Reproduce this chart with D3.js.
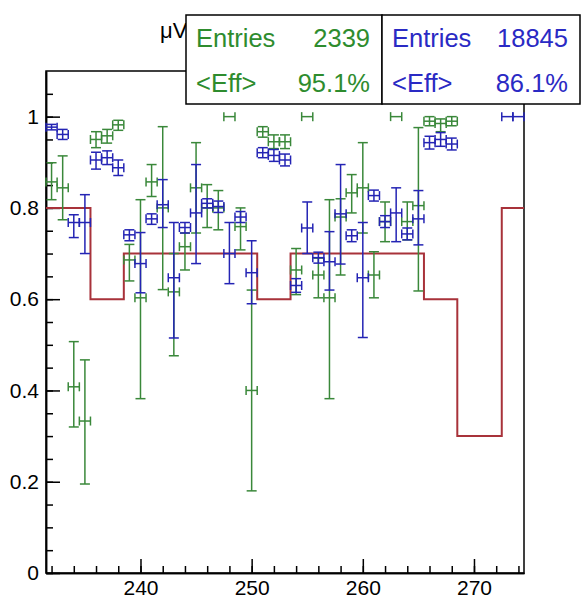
<!DOCTYPE html>
<html>
<head>
<meta charset="utf-8">
<script src="https://cdn.jsdelivr.net/npm/d3@7"></script>
<style>
  body { margin: 0; background: #fff; }
  svg { display: block; font-family: "Liberation Sans", Arial, sans-serif; }
</style>
</head>
<body>
<svg id="drawing_region"></svg>
<script>
// reference step histogram (bin edges and contents)
const refEdges  = [231.5, 235.5, 238.5, 250.5, 253.5, 265.5, 268.5, 272.5, 274.5];
const refValues = [0.8, 0.6, 0.7, 0.6, 0.7, 0.6, 0.3, 0.8];

// green series: bin centre, efficiency, upper and lower edge of the error
const greenBins = [232,233,234,235,236,237,238,239,240,241,242,243,244,245,246,247,248,249,250,251,252,253,254,255,256,257,258,259,260,261,262,263,264,265,266,267,268];
const greenEff  = [0.857,0.844,0.408,0.333,0.950,0.958,0.982,0.686,0.603,0.857,0.800,0.616,0.715,0.844,0.800,0.800,1.000,0.759,0.400,0.967,0.945,0.945,0.664,1.000,0.653,0.603,0.780,0.833,0.844,0.653,0.770,1.000,0.770,0.805,0.990,0.985,0.990];
const greenUp   = [0.899,0.914,0.507,0.467,0.967,0.972,0.992,0.720,0.818,0.895,0.978,0.700,0.745,0.943,0.851,0.838,1.000,0.800,0.620,0.978,0.960,0.960,0.711,1.000,0.690,0.818,0.820,0.873,0.943,0.704,0.813,1.000,0.813,0.976,1.000,0.995,1.000];
const greenLo   = [0.818,0.774,0.320,0.195,0.932,0.942,0.970,0.640,0.382,0.825,0.621,0.476,0.664,0.745,0.757,0.752,1.000,0.708,0.180,0.955,0.930,0.930,0.610,1.000,0.603,0.382,0.653,0.789,0.745,0.603,0.726,1.000,0.730,0.618,0.980,0.967,0.980];

// blue series
const blueBins = [232,233,234,235,236,237,238,239,240,241,242,243,244,245,246,247,248,249,250,251,252,253,254,255,256,257,258,259,260,261,262,263,264,265,266,267,268,273,274];
const blueEff  = [0.977,0.961,0.768,0.768,0.905,0.910,0.888,0.741,0.678,0.776,0.807,0.647,0.757,0.789,0.810,0.803,0.700,0.780,0.658,0.921,0.915,0.905,0.630,0.756,0.691,0.682,0.787,0.739,0.647,0.827,0.770,0.789,0.743,0.776,0.943,0.950,0.940,1.000,1.000];
const blueUp   = [0.983,0.972,0.785,0.829,0.922,0.925,0.905,0.752,0.746,0.787,0.862,0.768,0.768,0.895,0.820,0.815,0.768,0.792,0.728,0.932,0.928,0.918,0.645,0.813,0.703,0.748,0.895,0.752,0.768,0.839,0.783,0.844,0.756,0.838,0.957,0.965,0.953,1.000,1.000];
const blueLo   = [0.971,0.950,0.735,0.700,0.885,0.895,0.871,0.728,0.614,0.764,0.757,0.515,0.745,0.678,0.800,0.790,0.634,0.768,0.590,0.910,0.902,0.892,0.615,0.700,0.679,0.620,0.677,0.726,0.516,0.815,0.757,0.726,0.730,0.719,0.929,0.935,0.927,1.000,1.000];

// axis ticks
const xMajor = [240, 250, 260, 270];
const xMinor = d3.range(232, 275, 2);
const yMajor = [0, 0.2, 0.4, 0.6, 0.8, 1];
const yMinor = d3.range(0, 1.1, 0.05);

// stat boxes
const statLabels = ["Entries", "<Eff>"];
const greenStats = ["2339", "95.1%"];
const blueStats  = ["18845", "86.1%"];

const config = {
  width: 587,
  height: 599,
  margin: {top: 71, right: 63, bottom: 26, left: 46}
};
const green = '#3a883a', blue = '#2424b4', red = '#a8323a';
const greenText = '#2e8c2e', blueText = '#2a2ac4';

const svg = d3.select('#drawing_region')
    .attr('width', config.width)
    .attr('height', config.height);

const innerW = config.width - config.margin.left - config.margin.right;
const innerH = config.height - config.margin.top - config.margin.bottom;

const chart = svg.append('g')
    .attr('transform', `translate(${config.margin.left}, ${config.margin.top})`);

const xscale = d3.scaleLinear().domain([231.5, 274.5]).range([0, innerW]);
const yscale = d3.scaleLinear().domain([0, 1.1]).range([innerH, 0]);

// title, its tail is hidden behind the stat boxes
svg.append('text')
    .attr('x', 160).attr('y', 38)
    .attr('font-size', 22)
    .text('μV');

// frame
chart.append('rect')
    .attr('width', innerW).attr('height', innerH)
    .attr('fill', 'none').attr('stroke', '#000').attr('stroke-width', 1.5);

// axes, ticks pointing inwards
const yMinorAxis = d3.axisLeft(yscale).tickValues(yMinor).tickSize(-7).tickSizeOuter(0).tickFormat('');
const yMajorAxis = d3.axisLeft(yscale).tickValues(yMajor).tickSize(-14).tickSizeOuter(0).tickPadding(7)
    .tickFormat(d => (d === 0 || d === 1) ? String(d) : d.toFixed(1));
const xMinorAxis = d3.axisBottom(xscale).tickValues(xMinor).tickSize(-7).tickSizeOuter(0).tickFormat('');
const xMajorAxis = d3.axisBottom(xscale).tickValues(xMajor).tickSize(-14).tickSizeOuter(0).tickPadding(7);

const styleAxis = g => {
  g.selectAll('path,line').attr('stroke', '#000').attr('stroke-width', 1.5);
  g.selectAll('text').attr('font-size', 21).attr('fill', '#000')
      .attr('font-family', '"Liberation Sans", Arial, sans-serif');
};

chart.append('g').call(yMinorAxis).call(styleAxis);
chart.append('g').call(yMajorAxis).call(styleAxis);
chart.append('g').attr('transform', `translate(0, ${innerH})`).call(xMinorAxis).call(styleAxis);
chart.append('g').attr('transform', `translate(0, ${innerH})`).call(xMajorAxis).call(styleAxis);

// reference step line
const stepPts = refValues.map((v, i) => [refEdges[i], v]);
stepPts.push([refEdges[refEdges.length - 1], refValues[refValues.length - 1]]);
chart.append('path')
    .attr('d', d3.line().x(d => xscale(d[0])).y(d => yscale(d[1])).curve(d3.curveStepAfter)(stepPts))
    .attr('fill', 'none').attr('stroke', red).attr('stroke-width', 2);

// error bars with end caps
function drawSeries(bins, eff, up, lo, color) {
  const pts = bins.map((b, i) => ({x: b, y: eff[i], hi: up[i], lo: lo[i]}));
  const g = chart.append('g').attr('stroke', color).attr('stroke-width', 1.5).attr('fill', 'none');
  const cap = 5, hcap = 4.5;
  pts.forEach(p => {
    const cx = xscale(p.x), cy = yscale(p.y);
    const x0 = xscale(p.x - 0.5), x1 = xscale(p.x + 0.5);
    g.append('line').attr('x1', x0).attr('x2', x1).attr('y1', cy).attr('y2', cy);
    g.append('line').attr('x1', x0).attr('x2', x0).attr('y1', cy - hcap).attr('y2', cy + hcap);
    g.append('line').attr('x1', x1).attr('x2', x1).attr('y1', cy - hcap).attr('y2', cy + hcap);
    if (p.hi > p.lo) {
      const yh = yscale(p.hi), yl = yscale(p.lo);
      g.append('line').attr('x1', cx).attr('x2', cx).attr('y1', yh).attr('y2', yl);
      g.append('line').attr('x1', cx - cap).attr('x2', cx + cap).attr('y1', yh).attr('y2', yh);
      g.append('line').attr('x1', cx - cap).attr('x2', cx + cap).attr('y1', yl).attr('y2', yl);
    }
  });
}
drawSeries(greenBins, greenEff, greenUp, greenLo, green);
drawSeries(blueBins, blueEff, blueUp, blueLo, blue);

// stat boxes
function statBox(x, w, values, color) {
  const g = svg.append('g');
  g.append('rect').attr('x', x).attr('y', 15).attr('width', w).attr('height', 89)
      .attr('fill', '#fff').attr('stroke', '#000').attr('stroke-width', 1.5);
  statLabels.forEach((lab, i) => {
    const y = 47 + i * 44.5;
    g.append('text').attr('x', x + 10).attr('y', y).attr('font-size', 25.5)
        .attr('fill', color).text(lab);
    g.append('text').attr('x', x + w - 12).attr('y', y).attr('font-size', 25.5)
        .attr('text-anchor', 'end').attr('fill', color).text(values[i]);
  });
}
statBox(186, 196, greenStats, greenText);
statBox(382, 198, blueStats, blueText);
</script>
</body>
</html>
